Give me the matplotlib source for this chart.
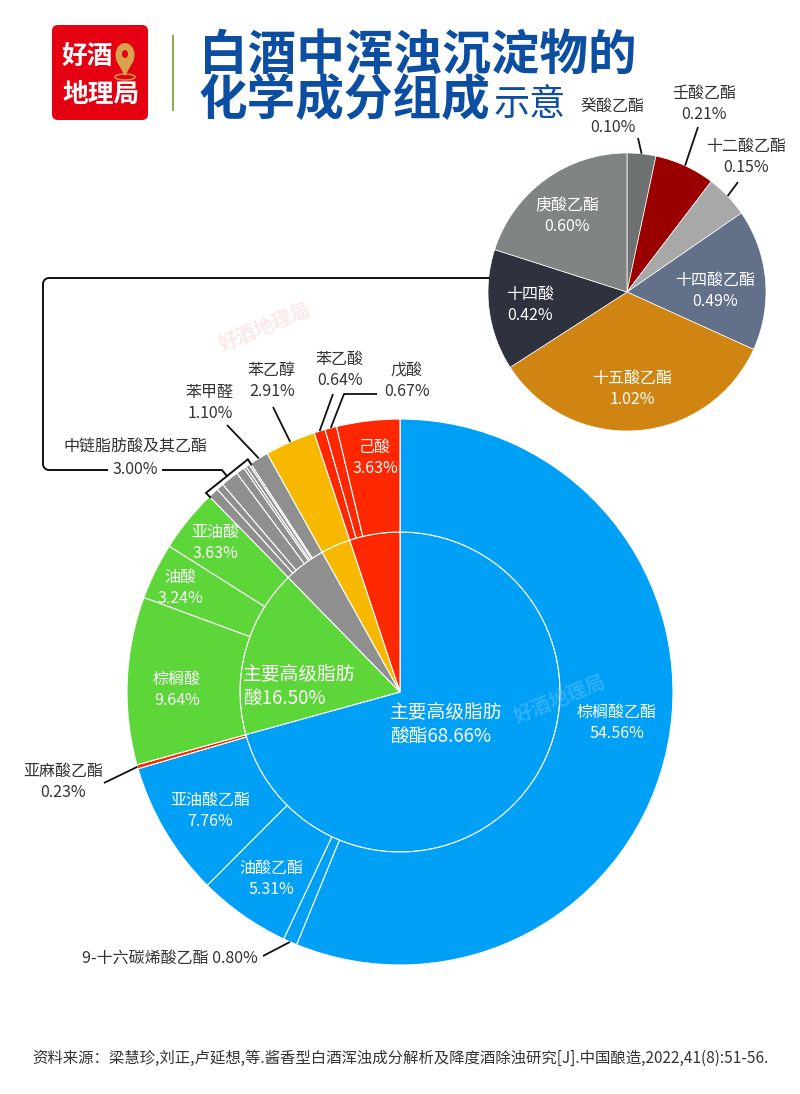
import matplotlib
matplotlib.use('Agg')
import matplotlib.pyplot as plt
import matplotlib.patches as mpatches
import numpy as np

plt.rcParams['font.family'] = ['Noto Sans CJK SC', 'DejaVu Sans']

# 内圈: 大类
inner_names = ['主要高级脂肪酸酯', '主要高级脂肪酸', '中链及苯甲醛', '苯乙醇', '短链酸']
inner_values = [68.66, 16.50, 4.10, 2.91, 4.94]

# 外圈: 各成分 (顺时针, 从正上方开始)
ester_names = ['棕榈酸乙酯', '9-十六碳烯酸乙酯', '油酸乙酯', '亚油酸乙酯', '亚麻酸乙酯']
ester_values = [54.56, 0.80, 5.31, 7.76, 0.23]
acid_names = ['棕榈酸', '油酸', '亚油酸']
acid_values = [9.64, 3.24, 3.63]
other_names = ['苯甲醛', '苯乙醇', '苯乙酸', '戊酸', '己酸']
other_values = [1.10, 2.91, 0.64, 0.67, 3.63]

# 右上小饼图: 中链脂肪酸及其乙酯 3.00%
mid_names = ['癸酸乙酯', '壬酸乙酯', '十二酸乙酯', '十四酸乙酯', '十五酸乙酯', '十四酸', '庚酸乙酯']
mid_values = [0.10, 0.21, 0.15, 0.49, 1.02, 0.42, 0.60]
mid_total = 3.00

source = '资料来源：梁慧珍,刘正,卢延想,等.酱香型白酒浑浊成分解析及降度酒除浊研究[J].中国酿造,2022,41(8):51-56.'

BLUE = '#00a0f6'
GREEN = '#5dd639'
GRAY = '#8f8f8f'
YELLOW = '#f8b800'
RED = '#ff2700'
DARK = '#333333'

inner_colors = [BLUE, GREEN, GRAY, YELLOW, RED]
outer_values = ester_values + acid_values + mid_values[::-1] + other_values
outer_colors = [BLUE] * 4 + [RED] + [GREEN] * 3 + [GRAY] * len(mid_values) + [GRAY, YELLOW, RED, RED, RED]
mid_colors = ['#6d7170', '#9b0000', '#a8a8a8', '#627089', '#d08513', '#2e323e', '#7f8584']

fig = plt.figure(figsize=(8, 10.94), dpi=100)
ax = fig.add_axes([0, 0, 1, 1])

C = (400, 692)
R = 273
R_IN = 160
wi, _ = ax.pie(inner_values, colors=inner_colors, radius=R_IN, center=C,
               startangle=-90, counterclock=True,
               wedgeprops=dict(edgecolor='white', linewidth=0.8))
wo, _ = ax.pie(outer_values, colors=outer_colors, radius=R, center=C,
               startangle=-90, counterclock=True,
               wedgeprops=dict(width=R - R_IN, edgecolor='white', linewidth=0.8))

SC = (627, 292)
SR = 139
ws, _ = ax.pie(mid_values, colors=mid_colors, radius=SR, center=SC,
               startangle=-90, counterclock=True,
               wedgeprops=dict(edgecolor='white', linewidth=0.5))

ax.set_xlim(0, 800)
ax.set_ylim(1094, 0)
ax.set_aspect('equal')
ax.axis('off')


def rim(w, r):
    a = np.deg2rad((w.theta1 + w.theta2) / 2)
    return w.center[0] + r * np.cos(a), w.center[1] + r * np.sin(a)


def lab(x, y, name, v, color='white', one_line=False):
    s = f'{name} {v:.2f}%' if one_line else f'{name}\n{v:.2f}%'
    ax.text(x, y, s, ha='center', va='center', color=color, fontsize=11.5, linespacing=1.25)


# 内圈文字
ax.text(390, 724, '主要高级脂肪\n酸酯%.2f%%' % inner_values[0], ha='left', va='center',
        color='white', fontsize=13.5, linespacing=1.2)
ax.text(243, 686, '主要高级脂肪\n酸%.2f%%' % inner_values[1], ha='left', va='center',
        color='white', fontsize=13.5, linespacing=1.2)

# 外圈文字 (白色)
lab(617, 723, ester_names[0], ester_values[0])
lab(210, 811, ester_names[3], ester_values[3])
lab(271, 879, ester_names[2], ester_values[2])
lab(177, 690, acid_names[0], acid_values[0])
lab(180, 588, acid_names[1], acid_values[1])
lab(215, 543, acid_names[2], acid_values[2])
lab(375, 458, other_names[4], other_values[4])

# 外圈文字 (引线)
n0 = len(ester_values) + len(acid_values) + len(mid_values)
lk = dict(color='#111111', lw=1.3, solid_capstyle='butt')
lab(210, 403, other_names[0], other_values[0], DARK)
p = rim(wo[n0], R)
ax.plot([p[0], 227], [p[1], 425], **lk)
lab(272, 381, other_names[1], other_values[1], DARK)
p = rim(wo[n0 + 1], R)
ax.plot([p[0], 273], [p[1], 407], **lk)
lab(340, 370, other_names[2], other_values[2], DARK)
p = rim(wo[n0 + 2], R)
ax.plot([p[0], 333], [p[1], 394], **lk)
lab(407, 381, other_names[3], other_values[3], DARK)
p = rim(wo[n0 + 3], R)
ax.plot([p[0], 344, 377], [p[1], 394, 394], **lk)
lab(63, 782, ester_names[4], ester_values[4], DARK)
p = rim(wo[4], R)
ax.plot([p[0], 104], [p[1], 783], **lk)
lab(170, 958, ester_names[1], ester_values[1], DARK, one_line=True)
p = rim(wo[1], R)
ax.plot([p[0], 263], [p[1], 956], **lk)

# 中链脂肪酸括号与连接框
k0 = len(ester_values) + len(acid_values)
t1 = np.deg2rad(wo[k0].theta1)
t2 = np.deg2rad(wo[k0 + len(mid_values) - 1].theta2)
rb = R + 5
b1 = (C[0] + rb * np.cos(t1), C[1] + rb * np.sin(t1))
b2 = (C[0] + rb * np.cos(t2), C[1] + rb * np.sin(t2))
r0 = R - 1
ax.plot([C[0] + r0 * np.cos(t1), b1[0], b2[0], C[0] + r0 * np.cos(t2)],
        [C[1] + r0 * np.sin(t1), b1[1], b2[1], C[1] + r0 * np.sin(t2)],
        color='#111111', lw=1.4, solid_joinstyle='miter')
mx, my = (b1[0] + b2[0]) / 2, (b1[1] + b2[1]) / 2
tm = (t1 + t2) / 2
ly = 470
px = mx + (ly - my) / np.sin(tm) * np.cos(tm)
rc = 6
xl, yt = 43, 278
a1 = np.linspace(np.pi / 2, np.pi, 10)
a2 = np.linspace(np.pi, 1.5 * np.pi, 10)
xend = SC[0] - np.sqrt(SR ** 2 - (SC[1] - yt) ** 2)
xs = np.concatenate([[mx, px], xl + rc + rc * np.cos(a1), xl + rc + rc * np.cos(a2), [xend]])
ys = np.concatenate([[my, ly], ly - rc + rc * np.sin(a1), yt + rc + rc * np.sin(a2), [yt]])
ax.plot(xs, ys, color='#111111', lw=1.4)
ax.text(135, 447, '中链脂肪酸及其乙酯', ha='center', va='center', color=DARK, fontsize=11.5)
ax.text(135, 470, '%.2f%%' % mid_total, ha='center', va='center', color=DARK, fontsize=11.5,
        bbox=dict(facecolor='white', edgecolor='none', pad=3))

# 小饼图文字
lab(613, 117, mid_names[0], mid_values[0], DARK)
p = rim(ws[0], SR)
ax.plot([p[0], 638], [p[1], 138], **lk)
lab(704, 104, mid_names[1], mid_values[1], DARK)
p = rim(ws[1], SR)
ax.plot([p[0], 698], [p[1], 127], **lk)
lab(746, 157, mid_names[2], mid_values[2], DARK)
p = rim(ws[2], SR)
ax.plot([p[0], 738], [p[1], 182], **lk)
lab(715, 291, mid_names[3], mid_values[3])
lab(632, 389, mid_names[4], mid_values[4])
lab(530, 305, mid_names[5], mid_values[5])
lab(567, 216, mid_names[6], mid_values[6])

# 水印
ax.text(265, 328, '好酒地理局', rotation=22, ha='center', va='center', color='#f7cccc',
        fontsize=14, fontweight='bold', alpha=0.45)
ax.text(560, 700, '好酒地理局', rotation=22, ha='center', va='center', color='#66c4fa',
        fontsize=14, fontweight='bold', alpha=0.45)

# 标题区
ax.add_patch(mpatches.FancyBboxPatch((52, 25), 96, 95, boxstyle='round,pad=0,rounding_size=6',
                                     facecolor='#e50012', edgecolor='none'))
ax.text(62, 56, '好酒', ha='left', va='center', color='white', fontsize=18.5, fontweight='bold')
ax.text(101, 94, '地理局', ha='center', va='center', color='white', fontsize=18.5, fontweight='bold')
ax.add_patch(mpatches.Ellipse((125, 55), 19, 24, facecolor='#d9a24e', edgecolor='none'))
ax.add_patch(mpatches.Polygon([(116, 60), (134, 60), (125, 76)], facecolor='#d9a24e', edgecolor='none'))
ax.add_patch(mpatches.Ellipse((125, 54), 6, 8, facecolor='#e50012', edgecolor='none'))
ax.add_patch(mpatches.Ellipse((125, 77), 20, 6, facecolor='none', edgecolor='#d9a24e', lw=1))
ax.plot([173, 173], [36, 110], color='#8cb050', lw=1.5)

TITLE = '#0b4ea2'
ax.text(199, 70, '白酒中浑浊沉淀物的', ha='left', va='baseline', color=TITLE,
        fontsize=35, fontweight='bold')
ax.text(199, 115, '化学成分组成', ha='left', va='baseline', color=TITLE,
        fontsize=35, fontweight='bold')
ax.text(494, 115, '示意', ha='left', va='baseline', color=TITLE, fontsize=26)

ax.text(400, 1058, source, ha='center', va='center', color=DARK, fontsize=11.1)

fig.savefig('out.png', dpi=100)
